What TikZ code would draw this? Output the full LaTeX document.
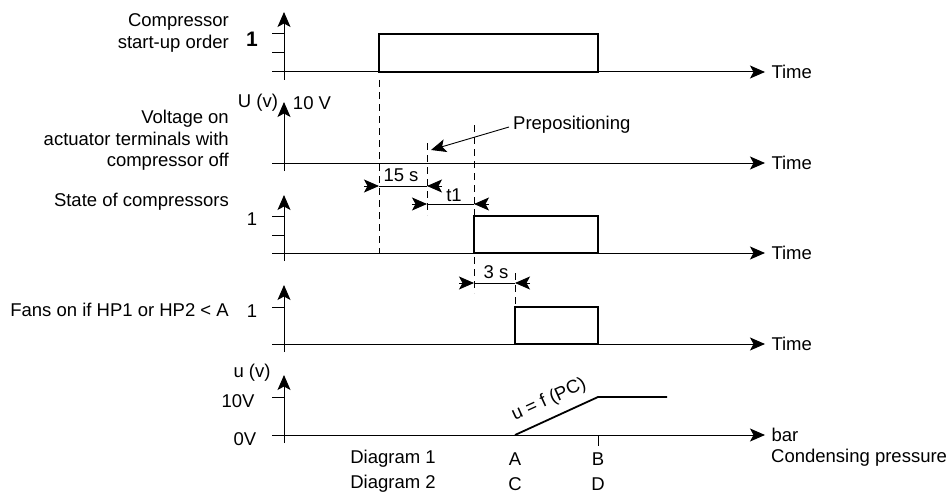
\documentclass[tikz,border=0pt]{standalone}
\usepackage{fontspec}
\setmainfont{Liberation Sans}
\usepackage{tikz}
\usetikzlibrary{arrows.meta,positioning,calc}

\begin{document}
\begin{tikzpicture}[
					x=1pt,y=-1pt,
					>={Stealth[length=15pt,width=13pt,inset=3.5pt]},
					lbl/.style={
						inner sep=0pt,
						font=\fontsize{18.5}{21.5}\selectfont
					},
					axis/.style={line width=1pt},
					pulse/.style={line width=1.8pt},
					guide/.style={line width=0.9pt,dash pattern=on 7pt off 5pt},
					dimline/.style={line width=0.9pt}
					]
					\useasboundingbox (0,0) rectangle (951,495);
					% axes of the five traces
					\foreach \name/\base/\tip in {cmd/72/12,volt/163/102,comp/253/195,fan/344/285,cond/435/375}{
						\coordinate (\name) at (284,\base);
						\draw[axis,->] ($(\name)+(0,8)$) -- (284,\tip);
					}
					\draw[axis,->] ($(cmd)+(-12,0)$) -- (765,72) node[lbl,right=6pt]{Time};
					\draw[axis,->] ($(volt)+(-12,0)$) -- (765,163) node[lbl,right=6pt]{Time};
					\draw[axis,->] ($(comp)+(-12,0)$) -- (765,253) node[lbl,right=6pt]{Time};
					\draw[axis,->] ($(fan)+(-12,0)$) -- (765,344) node[lbl,right=6pt]{Time};
					\draw[axis,->] ($(cond)+(-12,0)$) -- (765,435) node[lbl,right=6pt](bar){bar};
					% ticks
					\foreach \y in {34,53,216,235,307,397}
						\draw[axis] (272,\y) -- (284,\y);
					
					% trace labels
					\node[lbl,align=right,anchor=east](l1) at (229,33){Compressor\\start-up order};
					\node[lbl,align=right,anchor=east](l2) at (229,140.5){Voltage on\\actuator terminals with\\compressor off};
					\node[lbl,anchor=east](l3) at (229,202){State of compressors};
					\node[lbl,anchor=east](l4) at (229,310){Fans on if HP1 or HP2 < A};
					\node[lbl,font=\fontsize{21}{23}\selectfont\bfseries](one1) at (252,39){1};
					\node[lbl](uv) at (258,103){U (v)};
					\node[lbl](tenv) at (312,103){10 V};
					\node[lbl](one3) at (252,219){1};
					\node[lbl](one4) at (252,311){1};
					\node[lbl](uv2) at (252,373){u (v)};
					\node[lbl](ten) at (238,401){10V};
					\node[lbl](zero) at (245,439){0V};
					\node[lbl,anchor=west](condp) at (bar.west |- 0,458){Condensing pressure};
					
					% pulses
					\draw[pulse] (379,72) rectangle (598,34);
					\draw[pulse] (474,253) rectangle (598,216);
					\draw[pulse] (515,344) rectangle (598,307);
					\coordinate (pA) at (515,435);
					\coordinate (pB) at (598,397);
					\coordinate (pE) at (667,397);
					\draw[pulse] (pA) -- (pB) -- (pE);
					\node[lbl,rotate=24.6](law) at (549,400){u = f (PC)};
					\draw[axis] (598,435) -- (598,446);
					
					% guide lines
					\draw[guide] (379,80) -- (379,253);
					\draw[guide] (427,143) -- (427,215);
					\draw[guide] (474,125) -- (474,293);
					\draw[guide] (515,273) -- (515,307);
					
					\node[lbl,anchor=west](prepos) at (513,125){Prepositioning};
					\coordinate (preTip) at (431,150);
					\draw[dimline,->] (prepos.west) ++(-4,2) -- (preTip);
					
					% dimensions
					\foreach \a/\b/\y in {379/427/186,427/474/204,474/515/283}{
						\draw[dimline] (\a,\y) -- (\b,\y);
						\draw[dimline,->] (\a-15,\y) -- (\a,\y);
						\draw[dimline,->] (\b+15,\y) -- (\b,\y);
					}
					\node[lbl](d15) at (401,175){15 s};
					\node[lbl](dt1) at (454,195){t1};
					\node[lbl](d3) at (496,272){3 s};
					
					% pressure scale
					\node[lbl](dg1) at (393,459){Diagram 1};
					\node[lbl](dg2) at (393,484){Diagram 2};
					\node[lbl](ma) at (515,459){A};
					\node[lbl](mb) at (598,459){B};
					\node[lbl](mc) at (515,484){C};
					\node[lbl](md) at (598,484){D};
					
				\end{tikzpicture}
\end{document}
